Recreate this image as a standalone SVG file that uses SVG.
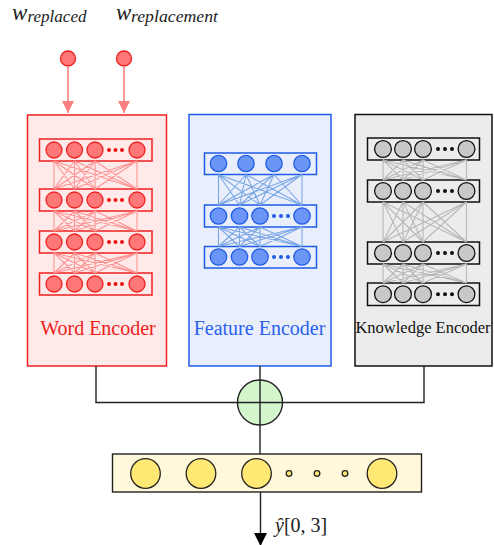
<svg xmlns="http://www.w3.org/2000/svg" width="494" height="545" viewBox="0 0 494 545">
<defs>
<style>
.serif{font-family:"Liberation Serif","Times New Roman",serif}
.math{font-family:"Liberation Serif","DejaVu Serif",serif;font-style:italic;fill:#222}
.rn{fill:#ff7878;stroke:#ee2020;stroke-width:1.3}
.rr{fill:#ffe9e9;stroke:#ee2020;stroke-width:1.5}
.rd{fill:#ee1111}
.bn{fill:#6b95f6;stroke:#1f5ce6;stroke-width:1.3}
.br{fill:#e8eefc;stroke:#1f5ce6;stroke-width:1.5}
.bd{fill:#1f5ce6}
.gn{fill:#c8c8c8;stroke:#111;stroke-width:1.3}
.gr{fill:#ececec;stroke:#111;stroke-width:1.5}
.gd{fill:#111}
.rc{fill:none;stroke:#ff9494;stroke-width:1.1}
.bc{fill:none;stroke:#7aa6e4;stroke-width:1.1}
.gc{fill:none;stroke:#b8b8b8;stroke-width:1.1}
.wire{fill:none;stroke:#222;stroke-width:1.4}
.yn{fill:#ffe874;stroke:#222;stroke-width:1.3}
</style>
<marker id="ah-red" viewBox="0 0 10 10" refX="10" refY="5" markerWidth="12" markerHeight="12" markerUnits="userSpaceOnUse" orient="auto"><path d="M0 0L10 5L0 10z" fill="#ff8080"/></marker>
<marker id="ah-blk" viewBox="0 0 10 10" refX="10" refY="5" markerWidth="13" markerHeight="13" markerUnits="userSpaceOnUse" orient="auto"><path d="M0 0L10 5L0 10z" fill="#000"/></marker>
</defs>
<rect width="494" height="545" fill="#fff"/>

<!-- input labels -->
<g id="label-replaced">
<text class="math" x="12" y="20" font-size="23">w</text>
<text class="math" x="27.5" y="22" font-size="16" textLength="59" lengthAdjust="spacingAndGlyphs">replaced</text>
</g>
<g id="label-replacement">
<text class="math" x="116" y="20" font-size="23">w</text>
<text class="math" x="131" y="22" font-size="16" textLength="87" lengthAdjust="spacingAndGlyphs">replacement</text>
</g>
<g id="input-replaced"><circle class="rn" cx="68" cy="58.5" r="7.5"/></g>
<g id="input-replacement"><circle class="rn" cx="124" cy="58.5" r="7.5"/></g>

<!-- Word Encoder -->
<g id="word-encoder">
<rect class="rr" x="27.5" y="115" width="139" height="251"/>
<g id="word-layer-1"><rect class="rr" x="39.5" y="139" width="112.5" height="22"/>
<circle class="rn" cx="54" cy="150" r="8"/><circle class="rn" cx="74.5" cy="150" r="8"/><circle class="rn" cx="95" cy="150" r="8"/><circle class="rn" cx="137" cy="150" r="8"/>
<circle class="rd" cx="109" cy="150" r="2"/><circle class="rd" cx="115.5" cy="150" r="2"/><circle class="rd" cx="122" cy="150" r="2"/></g>
<g id="word-layer-2"><rect class="rr" x="39.5" y="189" width="112.5" height="22"/>
<circle class="rn" cx="54" cy="200" r="8"/><circle class="rn" cx="74.5" cy="200" r="8"/><circle class="rn" cx="95" cy="200" r="8"/><circle class="rn" cx="137" cy="200" r="8"/>
<circle class="rd" cx="109" cy="200" r="2"/><circle class="rd" cx="115.5" cy="200" r="2"/><circle class="rd" cx="122" cy="200" r="2"/></g>
<g id="word-layer-3"><rect class="rr" x="39.5" y="231" width="112.5" height="22"/>
<circle class="rn" cx="54" cy="242" r="8"/><circle class="rn" cx="74.5" cy="242" r="8"/><circle class="rn" cx="95" cy="242" r="8"/><circle class="rn" cx="137" cy="242" r="8"/>
<circle class="rd" cx="109" cy="242" r="2"/><circle class="rd" cx="115.5" cy="242" r="2"/><circle class="rd" cx="122" cy="242" r="2"/></g>
<g id="word-layer-4"><rect class="rr" x="39.5" y="273" width="112.5" height="22"/>
<circle class="rn" cx="54" cy="284" r="8"/><circle class="rn" cx="74.5" cy="284" r="8"/><circle class="rn" cx="95" cy="284" r="8"/><circle class="rn" cx="137" cy="284" r="8"/>
<circle class="rd" cx="109" cy="284" r="2"/><circle class="rd" cx="115.5" cy="284" r="2"/><circle class="rd" cx="122" cy="284" r="2"/></g>
<text class="serif" x="98" y="335" font-size="20" fill="#ee1c1c" text-anchor="middle">Word Encoder</text>
</g>

<!-- Feature Encoder -->
<g id="feature-encoder">
<rect class="br" x="189" y="114.5" width="142" height="251.5"/>
<g id="feature-layer-1"><rect class="br" x="204.5" y="153" width="112" height="21.5"/>
<circle class="bn" cx="218.5" cy="163.5" r="8.2"/><circle class="bn" cx="246" cy="163.5" r="8.2"/><circle class="bn" cx="274" cy="163.5" r="8.2"/><circle class="bn" cx="302" cy="163.5" r="8.2"/></g>
<g id="feature-layer-2"><rect class="br" x="204.5" y="205" width="112" height="22"/>
<circle class="bn" cx="218.5" cy="216" r="8.2"/><circle class="bn" cx="239.5" cy="216" r="8.2"/><circle class="bn" cx="260" cy="216" r="8.2"/><circle class="bn" cx="302" cy="216" r="8.2"/>
<circle class="bd" cx="274" cy="216" r="2"/><circle class="bd" cx="281" cy="216" r="2"/><circle class="bd" cx="288" cy="216" r="2"/></g>
<g id="feature-layer-3"><rect class="br" x="204.5" y="246.5" width="112" height="21.5"/>
<circle class="bn" cx="218.5" cy="257" r="8.2"/><circle class="bn" cx="239.5" cy="257" r="8.2"/><circle class="bn" cx="260" cy="257" r="8.2"/><circle class="bn" cx="302" cy="257" r="8.2"/>
<circle class="bd" cx="274" cy="257" r="2"/><circle class="bd" cx="281" cy="257" r="2"/><circle class="bd" cx="288" cy="257" r="2"/></g>
<text class="serif" x="259.5" y="335" font-size="20" fill="#2a62ee" text-anchor="middle">Feature Encoder</text>
</g>

<!-- Knowledge Encoder -->
<g id="knowledge-encoder">
<rect class="gr" x="355" y="114.5" width="137" height="251.5"/>
<g id="knowledge-layer-1"><rect class="gr" x="367.5" y="138" width="112" height="22"/>
<circle class="gn" cx="383" cy="149" r="8.4"/><circle class="gn" cx="403" cy="149" r="8.4"/><circle class="gn" cx="423" cy="149" r="8.4"/><circle class="gn" cx="466.5" cy="149" r="8.4"/>
<circle class="gd" cx="438" cy="149" r="2"/><circle class="gd" cx="445" cy="149" r="2"/><circle class="gd" cx="452" cy="149" r="2"/></g>
<g id="knowledge-layer-2"><rect class="gr" x="367.5" y="180" width="112" height="22"/>
<circle class="gn" cx="383" cy="191" r="8.4"/><circle class="gn" cx="403" cy="191" r="8.4"/><circle class="gn" cx="423" cy="191" r="8.4"/><circle class="gn" cx="466.5" cy="191" r="8.4"/>
<circle class="gd" cx="438" cy="191" r="2"/><circle class="gd" cx="445" cy="191" r="2"/><circle class="gd" cx="452" cy="191" r="2"/></g>
<g id="knowledge-layer-3"><rect class="gr" x="367.5" y="242" width="112" height="22"/>
<circle class="gn" cx="383" cy="253" r="8.4"/><circle class="gn" cx="403" cy="253" r="8.4"/><circle class="gn" cx="423" cy="253" r="8.4"/><circle class="gn" cx="466.5" cy="253" r="8.4"/>
<circle class="gd" cx="438" cy="253" r="2"/><circle class="gd" cx="445" cy="253" r="2"/><circle class="gd" cx="452" cy="253" r="2"/></g>
<g id="knowledge-layer-4"><rect class="gr" x="367.5" y="283" width="112" height="22.5"/>
<circle class="gn" cx="383" cy="294.2" r="8.4"/><circle class="gn" cx="403" cy="294.2" r="8.4"/><circle class="gn" cx="423" cy="294.2" r="8.4"/><circle class="gn" cx="466.5" cy="294.2" r="8.4"/>
<circle class="gd" cx="438" cy="294.2" r="2"/><circle class="gd" cx="445" cy="294.2" r="2"/><circle class="gd" cx="452" cy="294.2" r="2"/></g>
<text class="serif" x="423" y="333" font-size="16.5" fill="#111" text-anchor="middle">Knowledge Encoder</text>
</g>

<!-- combiner -->
<g id="combiner"><circle cx="260" cy="402.5" r="22.5" fill="#d4f6cc" stroke="#222" stroke-width="1.4"/></g>

<!-- output layer -->
<g id="output-layer">
<rect x="112.5" y="454" width="309" height="38" fill="#fff8da" stroke="#222" stroke-width="1.4"/>
<circle class="yn" cx="145.5" cy="473.5" r="14.8"/><circle class="yn" cx="201" cy="473.5" r="14.8"/><circle class="yn" cx="256.5" cy="473.5" r="14.8"/><circle class="yn" cx="382" cy="473.5" r="14.8"/>
<circle class="yn" cx="289" cy="473.5" r="2.8" stroke-width="1"/><circle class="yn" cx="317" cy="473.5" r="2.8" stroke-width="1"/><circle class="yn" cx="345" cy="473.5" r="2.8" stroke-width="1"/>
</g>
<g id="output-label">
<text x="275" y="532" font-size="20" fill="#222" class="serif"><tspan font-style="italic">ŷ</tspan>[0, 3]</text>
</g>

<!-- connectors -->
<g id="connectors">
<path class="rc" d="M54 161L54 189M54 161L74.5 189M54 161L95 189M54 161L137 189M74.5 161L54 189M74.5 161L74.5 189M74.5 161L95 189M74.5 161L137 189M95 161L54 189M95 161L74.5 189M95 161L95 189M95 161L137 189M137 161L54 189M137 161L74.5 189M137 161L95 189M137 161L137 189"/>
<path class="rc" d="M54 211L54 231M54 211L74.5 231M54 211L95 231M54 211L137 231M74.5 211L54 231M74.5 211L74.5 231M74.5 211L95 231M74.5 211L137 231M95 211L54 231M95 211L74.5 231M95 211L95 231M95 211L137 231M137 211L54 231M137 211L74.5 231M137 211L95 231M137 211L137 231"/>
<path class="rc" d="M54 253L54 273M54 253L74.5 273M54 253L95 273M54 253L137 273M74.5 253L54 273M74.5 253L74.5 273M74.5 253L95 273M74.5 253L137 273M95 253L54 273M95 253L74.5 273M95 253L95 273M95 253L137 273M137 253L54 273M137 253L74.5 273M137 253L95 273M137 253L137 273"/>
<path class="bc" d="M218.5 174.5L218.5 205M218.5 174.5L239.5 205M218.5 174.5L260 205M218.5 174.5L302 205M246 174.5L218.5 205M246 174.5L239.5 205M246 174.5L260 205M246 174.5L302 205M274 174.5L218.5 205M274 174.5L239.5 205M274 174.5L260 205M274 174.5L302 205M302 174.5L218.5 205M302 174.5L239.5 205M302 174.5L260 205M302 174.5L302 205"/>
<path class="bc" d="M218.5 227L218.5 246.5M218.5 227L239.5 246.5M218.5 227L260 246.5M218.5 227L302 246.5M239.5 227L218.5 246.5M239.5 227L239.5 246.5M239.5 227L260 246.5M239.5 227L302 246.5M260 227L218.5 246.5M260 227L239.5 246.5M260 227L260 246.5M260 227L302 246.5M302 227L218.5 246.5M302 227L239.5 246.5M302 227L260 246.5M302 227L302 246.5"/>
<path class="gc" d="M383 160L383 180M383 160L403 180M383 160L423 180M383 160L466.5 180M403 160L383 180M403 160L403 180M403 160L423 180M403 160L466.5 180M423 160L383 180M423 160L403 180M423 160L423 180M423 160L466.5 180M466.5 160L383 180M466.5 160L403 180M466.5 160L423 180M466.5 160L466.5 180"/>
<path class="gc" d="M383 202L383 242M383 202L403 242M383 202L423 242M383 202L466.5 242M403 202L383 242M403 202L403 242M403 202L423 242M403 202L466.5 242M423 202L383 242M423 202L403 242M423 202L423 242M423 202L466.5 242M466.5 202L383 242M466.5 202L403 242M466.5 202L423 242M466.5 202L466.5 242"/>
<path class="gc" d="M383 264L383 283M383 264L403 283M383 264L423 283M383 264L466.5 283M403 264L383 283M403 264L403 283M403 264L423 283M403 264L466.5 283M423 264L383 283M423 264L403 283M423 264L423 283M423 264L466.5 283M466.5 264L383 283M466.5 264L403 283M466.5 264L423 283M466.5 264L466.5 283"/>
<line x1="68" y1="66" x2="68" y2="113" stroke="#ff8080" stroke-width="1.6" marker-end="url(#ah-red)"/>
<line x1="124" y1="66" x2="124" y2="113" stroke="#ff8080" stroke-width="1.6" marker-end="url(#ah-red)"/>
<path class="wire" d="M96 366V402.5H424V366"/>
<path class="wire" d="M260 366V454"/>
<line x1="260.5" y1="492" x2="260.5" y2="546" stroke="#222" stroke-width="1.4" marker-end="url(#ah-blk)"/>
</g>
</svg>
